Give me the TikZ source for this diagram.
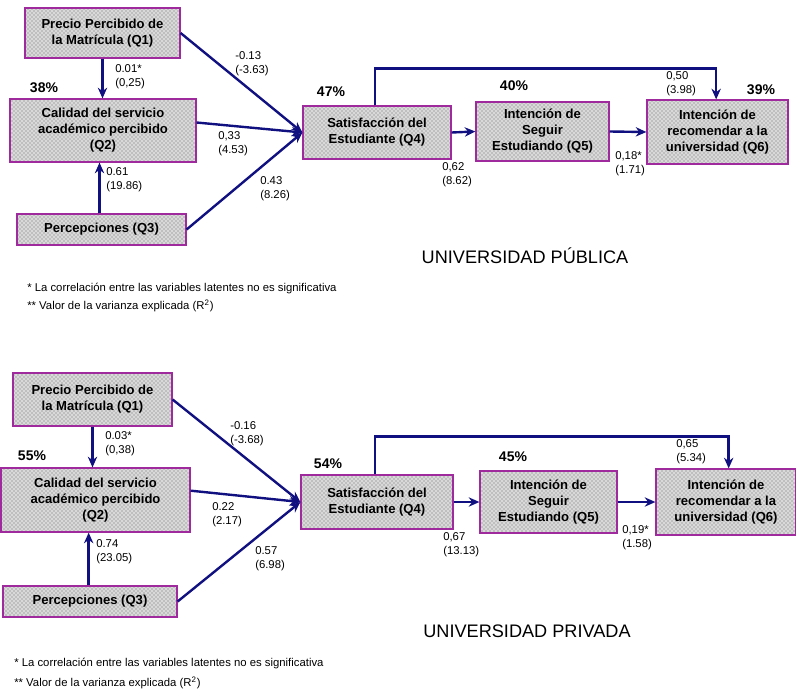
\documentclass[tikz,border=0pt]{standalone}
\usepackage{fontspec}
\setmainfont{Liberation Sans}
\usepackage{tikz}
\usetikzlibrary{arrows.meta,patterns,positioning}
\definecolor{boxpurple}{RGB}{158,42,158}
\definecolor{pathblue}{RGB}{16,16,128}

\begin{document}
\begin{tikzpicture}[
    x=0.75pt, y=-0.75pt,
    construct/.style={rectangle, draw=boxpurple, line width=0.9pt, preaction={fill=gray!30}, pattern=crosshatch dots, pattern color=gray!85!black, align=center, inner sep=1pt, font=\fontsize{9.8}{12}\selectfont\bfseries},
    coef/.style={anchor=north west, align=left, inner sep=0pt, font=\fontsize{8.5}{10.5}\selectfont},
    pct/.style={font=\fontsize{10.5}{12}\selectfont\bfseries},
    link/.style={-{Stealth[length=8pt,width=7pt]}, line width=1.8pt, draw=pathblue},
    title/.style={font=\fontsize{13.6}{16}\selectfont},
    note/.style={anchor=west, inner sep=0pt, font=\fontsize{8.5}{10}\selectfont}
]
\useasboundingbox (0,0) rectangle (796,689);

% Public university (top)
\node[construct, minimum width=116.25pt, minimum height=37.5pt] (q1pub) at (102.5,33) {Precio Percibido de\\la Matrícula (Q1)};
\node[construct, minimum width=139.5pt, minimum height=47.25pt] (q2pub) at (103,130.5) {Calidad del servicio\\académico percibido\\(Q2)};
\node[construct, minimum width=126.75pt, minimum height=23.25pt] (q3pub) at (101.5,229.5) {Percepciones (Q3)};
\node[construct, minimum width=111pt, minimum height=39.75pt] (q4pub) at (377,132.5) {Satisfacción del\\Estudiante (Q4)};
\node[construct, minimum width=99.75pt, minimum height=44.25pt] (q5pub) at (542.5,131.5) {Intención de\\Seguir\\Estudiando (Q5)};
\node[construct, minimum width=105.75pt, minimum height=48pt] (q6pub) at (717.5,132) {Intención de\\recomendar a la\\universidad (Q6)};

\node[pct] at (44,88) {38\%};
\node[pct] at (331,92) {47\%};
\node[pct] at (514,86) {40\%};
\node[pct] at (761,90) {39\%};

\draw[link] (q1pub.south) -- (q1pub.south |- q2pub.north);
\draw[link] ([xshift=-1.5pt]q3pub.north) -- ([xshift=-1.5pt]q3pub.north |- q2pub.south);
\draw[link] (q1pub.east) -- (q4pub.west);
\draw[link] ([yshift=6pt]q2pub.east) -- (q4pub.west);
\draw[link] (q3pub.east) -- (q4pub.west);
\draw[link] (q4pub.east) -- (q5pub.west);
\draw[link] (q5pub.east) -- (q6pub.west);
\draw[link] ([xshift=-1.5pt]q4pub.north) -- ++(0,-37) -| ([xshift=-1pt]q6pub.north);

\node[coef] at (235,51) {-0.13\\(-3.63)};
\node[coef] at (115,64) {0.01*\\(0,25)};
\node[coef] at (218,131) {0,33\\(4.53)};
\node[coef] at (106,167) {0.61\\(19.86)};
\node[coef] at (260,176) {0.43\\(8.26)};
\node[coef] at (442,162) {0,62\\(8.62)};
\node[coef] at (615,151) {0,18*\\(1.71)};
\node[coef] at (666,71) {0,50\\(3.98)};

\node[title] (tpub) at (525,256) {UNIVERSIDAD PÚBLICA};
\node[note] (n1pub) at (27,288) {* La correlación entre las variables latentes no es significativa};
\node[note] (n2pub) at (27,306) {** Valor de la varianza explicada (R\textsuperscript{2})};

% Private university (bottom)
\node[construct, minimum width=119.25pt, minimum height=39.75pt] (q1priv) at (92.5,399.5) {Precio Percibido de\\la Matrícula (Q1)};
\node[construct, minimum width=141.75pt, minimum height=48pt] (q2priv) at (95.5,500) {Calidad del servicio\\académico percibido\\(Q2)};
\node[construct, minimum width=130.5pt, minimum height=23.25pt] (q3priv) at (90,601.5) {Percepciones (Q3)};
\node[construct, minimum width=114pt, minimum height=40.5pt] (q4priv) at (377,502) {Satisfacción del\\Estudiante (Q4)};
\node[construct, minimum width=102.75pt, minimum height=46.5pt] (q5priv) at (548.5,502) {Intención de\\Seguir\\Estudiando (Q5)};
\node[construct, minimum width=105pt, minimum height=49.5pt] (q6priv) at (726,502) {Intención de\\recomendar a la\\universidad (Q6)};

\node[pct] at (32,456) {55\%};
\node[pct] at (328,464) {54\%};
\node[pct] at (513,457) {45\%};

\draw[link] (q1priv.south) -- (q1priv.south |- q2priv.north);
\draw[link] ([xshift=-1pt]q3priv.north) -- ([xshift=-1pt]q3priv.north |- q2priv.south);
\draw[link] (q1priv.east) -- (q4priv.west);
\draw[link] ([yshift=7pt]q2priv.east) -- (q4priv.west);
\draw[link] (q3priv.east) -- (q4priv.west);
\draw[link] (q4priv.east) -- (q5priv.west);
\draw[link] (q5priv.east) -- (q6priv.west);
\draw[link] ([xshift=-1.5pt]q4priv.north) -- ++(0,-38) -| ([xshift=2pt]q6priv.north);

\node[coef] at (230,421) {-0.16\\(-3.68)};
\node[coef] at (105,431) {0.03*\\(0,38)};
\node[coef] at (212,502) {0.22\\(2.17)};
\node[coef] at (96,539) {0.74\\(23.05)};
\node[coef] at (255,546) {0.57\\(6.98)};
\node[coef] at (443,532) {0,67\\(13.13)};
\node[coef] at (622,525) {0,19*\\(1.58)};
\node[coef] at (676,439) {0,65\\(5.34)};

\node[title] (tpriv) at (527,631) {UNIVERSIDAD PRIVADA};
\node[note] (n1priv) at (14,663) {* La correlación entre las variables latentes no es significativa};
\node[note] (n2priv) at (14,683) {** Valor de la varianza explicada (R\textsuperscript{2})};

\end{tikzpicture}
\end{document}
